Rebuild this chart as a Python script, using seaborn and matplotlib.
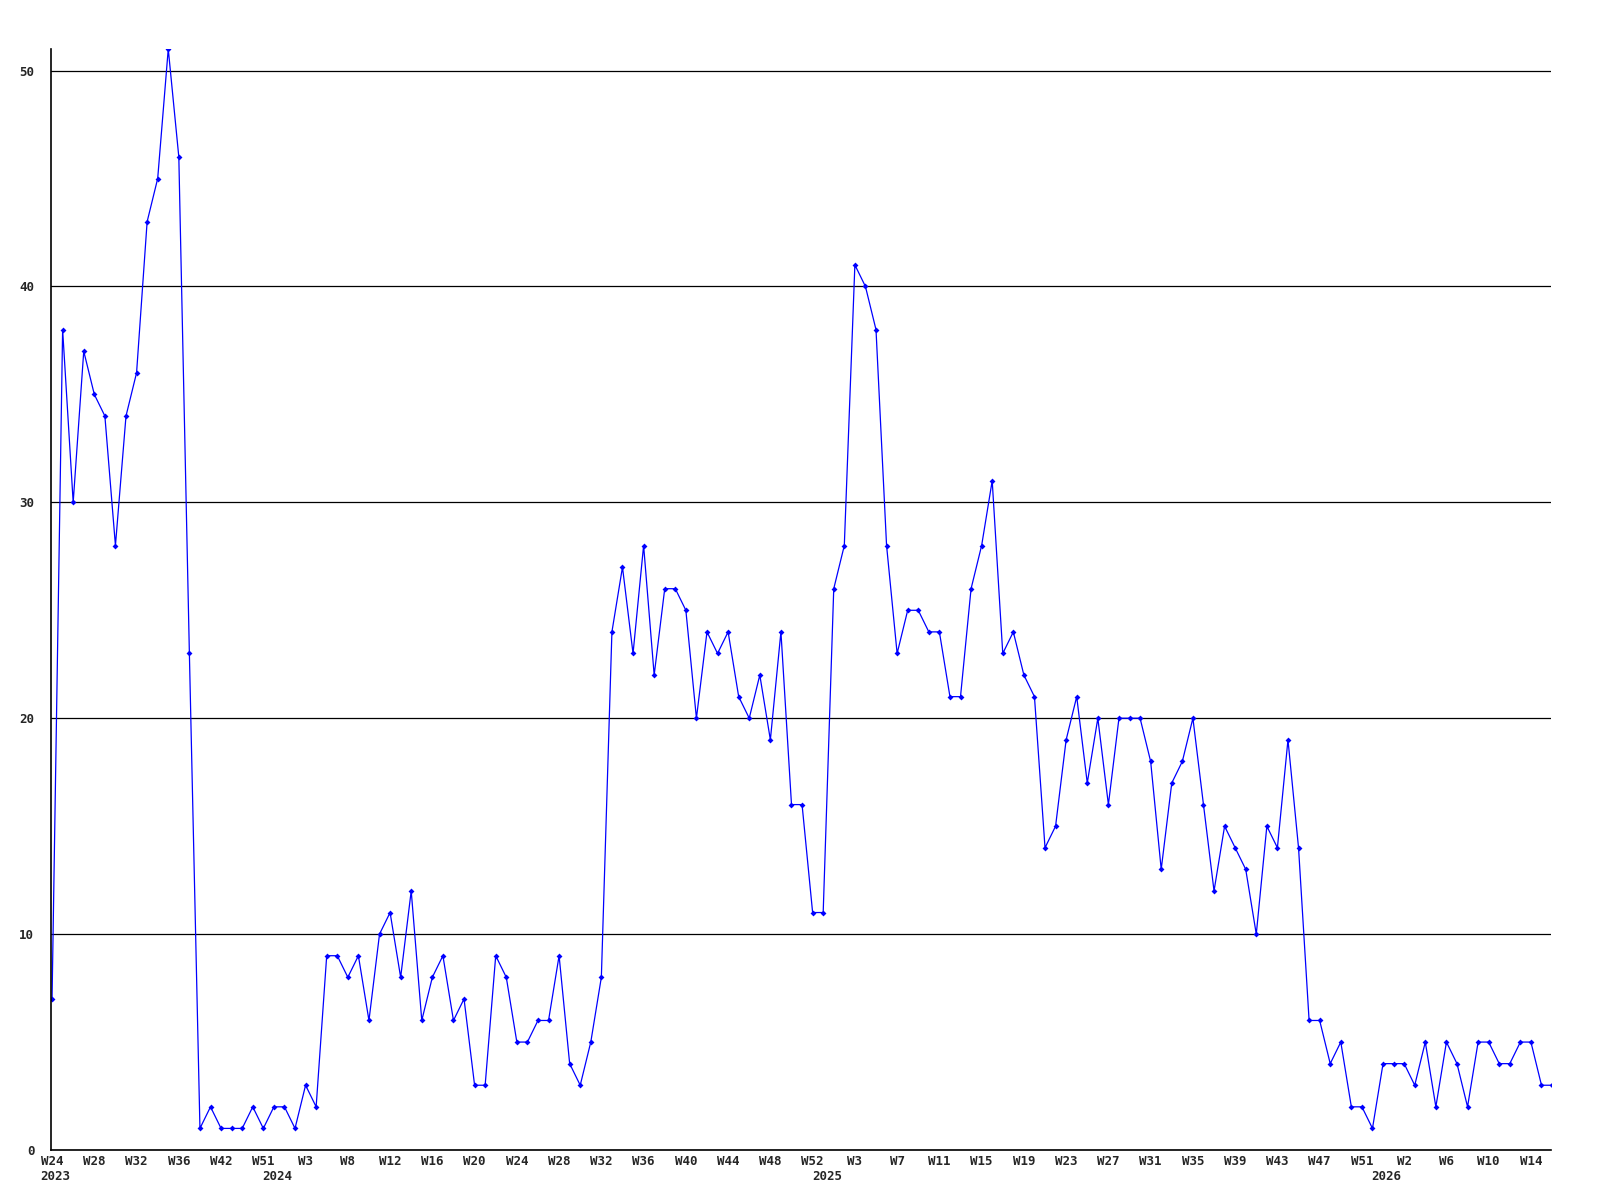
import pandas as pd
import matplotlib.pyplot as plt
import matplotlib.transforms as mtransforms
import seaborn as sns

# weekly counts, one point per available week (gaps in the weeks are skipped)
valores = [7, 38, 30, 37, 35, 34, 28, 34, 36, 43, 45, 51, 46, 23, 1, 2, 1, 1, 1, 2,
           1, 2, 2, 1, 3, 2, 9, 9, 8, 9, 6, 10, 11, 8, 12, 6, 8, 9, 6, 7,
           3, 3, 9, 8, 5, 5, 6, 6, 9, 4, 3, 5, 8, 24, 27, 23, 28, 22, 26, 26,
           25, 20, 24, 23, 24, 21, 20, 22, 19, 24, 16, 16, 11, 11, 26, 28, 41, 40, 38, 28,
           23, 25, 25, 24, 24, 21, 21, 26, 28, 31, 23, 24, 22, 21, 14, 15, 19, 21, 17, 20,
           16, 20, 20, 20, 18, 13, 17, 18, 20, 16, 12, 15, 14, 13, 10, 15, 14, 19, 14, 6,
           6, 4, 5, 2, 2, 1, 4, 4, 4, 3, 5, 2, 5, 4, 2, 5, 5, 4, 4, 5,
           5, 3, 3]

semanas = ["W24", "W28", "W32", "W36", "W42", "W51", "W3", "W8", "W12", "W16",
           "W20", "W24", "W28", "W32", "W36", "W40", "W44", "W48", "W52", "W3",
           "W7", "W11", "W15", "W19", "W23", "W27", "W31", "W35", "W39", "W43",
           "W47", "W51", "W2", "W6", "W10", "W14"]

anos = ["2023", "2024", "2025", "2026"]
pos_anos = [0.3, 21.3, 73.4, 126.3]

df = pd.DataFrame({"idx": range(len(valores)), "n": valores})

sns.set_style("white")
plt.rcParams['font.family'] = ['DejaVu Sans Mono']

fig, ax = plt.subplots(figsize=(16, 12), dpi=100)
fig.subplots_adjust(left=51/1600, right=1551/1600, top=1-49/1200, bottom=1-1150/1200)

sns.lineplot(data=df, x="idx", y="n", ax=ax, color="#0000ff", lw=0.9,
             marker="D", markersize=3, markeredgewidth=0, markerfacecolor="#0000ff")

ax.set_xlim(-0.1, 141.9)
ax.set_ylim(0, 51)
ax.set_yticks([0, 10, 20, 30, 40, 50])
ax.set_yticklabels(["0", "10", "20", "30", "40", "50"], fontweight="bold")
ax.set_xticks(range(0, 141, 4))
ax.set_xticklabels(semanas, fontweight="bold")
ax.yaxis.grid(True, color="black", lw=0.9)
ax.set_axisbelow(True)
ax.tick_params(axis="y", length=0, labelsize=9, pad=12)
ax.tick_params(axis="x", length=0, labelsize=9, pad=3.5)
ax.set_xlabel("")
ax.set_ylabel("")

for lado in ["top", "right"]:
    ax.spines[lado].set_visible(False)
for lado in ["left", "bottom"]:
    ax.spines[lado].set_color("black")
    ax.spines[lado].set_linewidth(1.2)

trans = mtransforms.blended_transform_factory(ax.transData, ax.transAxes)
for ano, p in zip(anos, pos_anos):
    ax.text(p, -0.0245, ano, transform=trans, ha="center", va="center",
            fontsize=9, fontweight="bold")

plt.savefig("out.png", dpi=100)
plt.close()
